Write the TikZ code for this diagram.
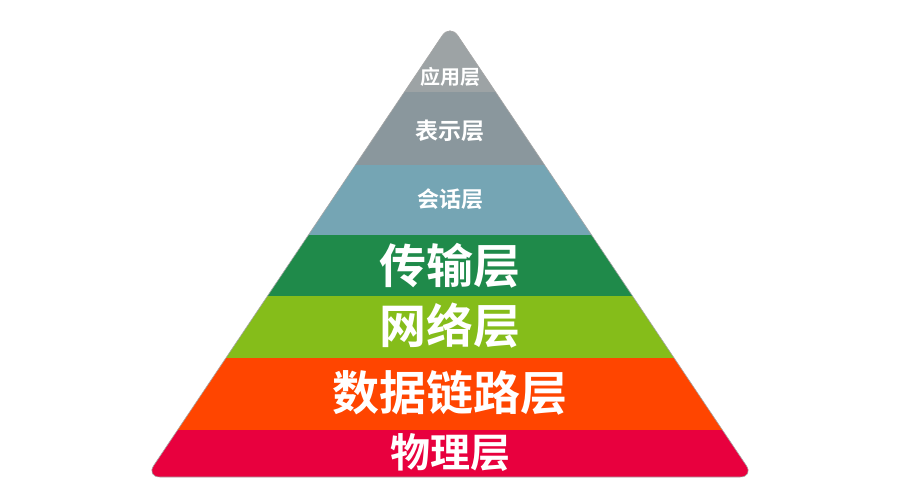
\documentclass[tikz,border=0pt]{standalone}
\usepackage{fontspec}
\newfontfamily\cjk{Noto Sans CJK SC Bold}
\begin{document}
\begin{tikzpicture}[x=1pt,y=-1pt,
  lbl/.style={text=white,font=\cjk,inner sep=0pt}]
\useasboundingbox (0,0) rectangle (900,500);
\definecolor{c1}{HTML}{9DA3A5}
\definecolor{c2}{HTML}{8A979D}
\definecolor{c3}{HTML}{75A5B4}
\definecolor{c4}{HTML}{1F8A4A}
\definecolor{c5}{HTML}{85BD1A}
\definecolor{c6}{HTML}{FF4500}
\definecolor{c7}{HTML}{E8003E}
\begin{scope}
\clip[rounded corners=14pt] (450,24) -- (754,477) -- (146,477) -- cycle;
\fill[c1] (0,0) rectangle (900,92);
\fill[c2] (0,92) rectangle (900,165);
\fill[c3] (0,165) rectangle (900,235);
\fill[c4] (0,235) rectangle (900,296);
\fill[c5] (0,296) rectangle (900,358);
\fill[c6] (0,358) rectangle (900,430);
\fill[c7] (0,430) rectangle (900,500);
\end{scope}
\draw[gray!70,line width=0.6pt,rounded corners=14pt] (450,24) -- (754,477) -- (146,477) -- cycle;
\node[lbl,font=\cjk\fontsize{20}{22}\selectfont] (l1) at (450,77) {应用层};
\node[lbl,font=\cjk\fontsize{23}{26}\selectfont] (l2) at (450,131) {表示层};
\node[lbl,font=\cjk\fontsize{22}{25}\selectfont] (l3) at (450,199) {会话层};
\node[lbl,font=\cjk\fontsize{47}{50}\selectfont] (l4) at (450,266) {传输层};
\node[lbl,font=\cjk\fontsize{47}{50}\selectfont] (l5) at (450,326) {网络层};
\node[lbl,font=\cjk\fontsize{47}{50}\selectfont] (l6) at (450,393) {数据链路层};
\node[lbl,font=\cjk\fontsize{40}{44}\selectfont] (l7) at (450,453) {物理层};
\end{tikzpicture}
\end{document}
